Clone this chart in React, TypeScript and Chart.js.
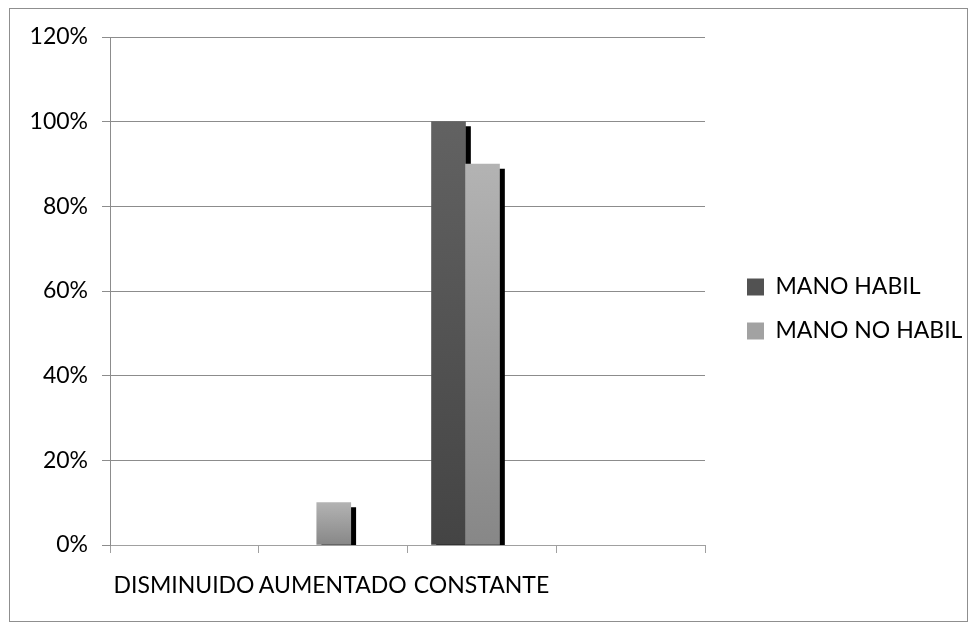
import { useEffect, useRef } from 'react';
import { Chart, registerables } from 'chart.js';

Chart.register(...registerables);

// ---- data ----
const categories = ['DISMINUIDO', 'AUMENTADO', 'CONSTANTE', ''];
const seriesNames = ['MANO HABIL', 'MANO NO HABIL'];
const manoHabil = [0, 0, 1.0, 0];
const manoNoHabil = [0, 0.1, 0.9, 0];
const yTickLabels = ['0%', '20%', '40%', '60%', '80%', '100%', '120%'];

const seriesTop = ['#626262', '#b3b3b3'];
const seriesBottom = ['#444444', '#878787'];
const seriesFlat = ['#525252', '#a2a2a2'];

const X_MIN = -0.39;
const X_MAX = X_MIN + categories.length;
const xBoundaries = [...categories.map((_, i) => X_MIN + i), X_MAX];

const barGradient = (s: number) => (ctx: any) => {
  const chart = ctx.chart;
  if (!chart.chartArea || ctx.type !== 'data') return seriesFlat[s];
  const y = chart.scales.y;
  const v = ctx.raw && typeof ctx.raw.y === 'number' ? ctx.raw.y : 0;
  const yTop = y.getPixelForValue(v);
  const yBase = y.getPixelForValue(0);
  if (yBase - yTop < 1) return 'rgba(0,0,0,0)';
  const g = chart.ctx.createLinearGradient(0, yTop, 0, yBase);
  g.addColorStop(0, seriesTop[s]);
  g.addColorStop(1, seriesBottom[s]);
  return g;
};

const shadowPlugin = {
  id: 'barShadow',
  beforeDatasetsDraw(chart: any) {
    const ctx = chart.ctx;
    const a = chart.chartArea;
    ctx.save();
    ctx.beginPath();
    ctx.rect(a.left, a.top, a.right - a.left, a.bottom - a.top);
    ctx.clip();
    ctx.shadowColor = '#000000';
    ctx.shadowOffsetX = 5;
    ctx.shadowOffsetY = 5;
    ctx.shadowBlur = 0;
    chart.data.datasets.forEach((_: any, i: number) => {
      const meta = chart.getDatasetMeta(i);
      if (chart.isDatasetVisible(i)) meta.controller.draw();
    });
    ctx.restore();
    return false;
  },
};

// keeps the legend column centred on the same band as in the reference
const legendBandPlugin = {
  id: 'legendBand',
  afterLayout(chart: any) {
    const l = chart.legend;
    if (!l) return;
    l.bottom = chart.height - 40;
    l.height = l.bottom - l.top;
  },
};

export default function App() {
  const canvasRef = useRef<HTMLCanvasElement | null>(null);

  useEffect(() => {
    if (!canvasRef.current) return;
    Chart.defaults.font.family = 'Lato';
    const font = { family: 'Lato', size: 23 };
    const defaultLabels = (Chart.defaults.plugins.legend.labels as any).generateLabels;
    const chart = new Chart(canvasRef.current, {
      type: 'bar',
      data: {
        datasets: [
          {
            label: seriesNames[0],
            data: manoHabil.map((v, i) => ({ x: i, y: v })),
            backgroundColor: barGradient(0),
            borderWidth: 0,
            barThickness: 34,
          },
          {
            label: seriesNames[1],
            data: manoNoHabil.map((v, i) => ({ x: i, y: v })),
            backgroundColor: barGradient(1),
            borderWidth: 0,
            barThickness: 34,
          },
        ],
      },
      options: {
        animation: false,
        responsive: true,
        maintainAspectRatio: false,
        events: [],
        layout: { padding: { top: 28, bottom: 10, left: 0, right: 0 } },
        plugins: {
          tooltip: { enabled: false },
          title: { display: false },
          legend: {
            display: true,
            position: 'right',
            maxWidth: 957 - 695 - 21,
            labels: {
              boxWidth: 17,
              boxHeight: 17,
              padding: 21,
              color: '#000000',
              font,
              generateLabels: (c: any) =>
                defaultLabels(c).map((item: any, i: number) => ({
                  ...item,
                  fillStyle: seriesFlat[i],
                  strokeStyle: seriesFlat[i],
                  lineWidth: 0,
                })),
            },
          },
        },
        scales: {
          x: {
            type: 'linear',
            min: X_MIN,
            max: X_MAX,
            offset: false,
            afterBuildTicks: (scale: any) => {
              scale.ticks = xBoundaries.map((v) => ({ value: v }));
            },
            afterFit: (scale: any) => {
              scale.height = 66;
            },
            grid: {
              offset: false,
              drawOnChartArea: false,
              drawTicks: true,
              tickLength: 8,
              color: '#a0a0a0',
            },
            border: { display: true, color: '#a0a0a0' },
            ticks: {
              autoSkip: false,
              maxRotation: 0,
              minRotation: 0,
              padding: 19,
              labelOffset: 74,
              color: '#000000',
              font,
              callback: (_v: any, i: number) => categories[i] ?? '',
            },
          },
          y: {
            type: 'linear',
            min: 0,
            max: 1.2,
            afterFit: (scale: any) => {
              scale.width = 100;
            },
            grid: {
              color: '#8c8c8c',
              drawTicks: true,
              tickLength: 8,
            },
            border: { display: true, color: '#8c8c8c' },
            ticks: {
              stepSize: 0.2,
              padding: 14,
              color: '#000000',
              font,
              callback: (_v: any, i: number) => yTickLabels[i] ?? '',
            },
          },
          gap: {
            type: 'linear',
            position: 'right',
            display: true,
            grid: { display: false, drawTicks: false },
            border: { display: false },
            ticks: { display: false },
            afterFit: (scale: any) => {
              scale.width = 21;
            },
          },
        },
      } as any,
      plugins: [shadowPlugin, legendBandPlugin],
    });
    return () => chart.destroy();
  }, []);

  return (
    <div
      style={{
        width: 957,
        height: 612,
        border: '1px solid #8f8f8f',
        marginLeft: 1,
        position: 'relative',
        background: '#ffffff',
      }}
    >
      <canvas ref={canvasRef} />
    </div>
  );
}
